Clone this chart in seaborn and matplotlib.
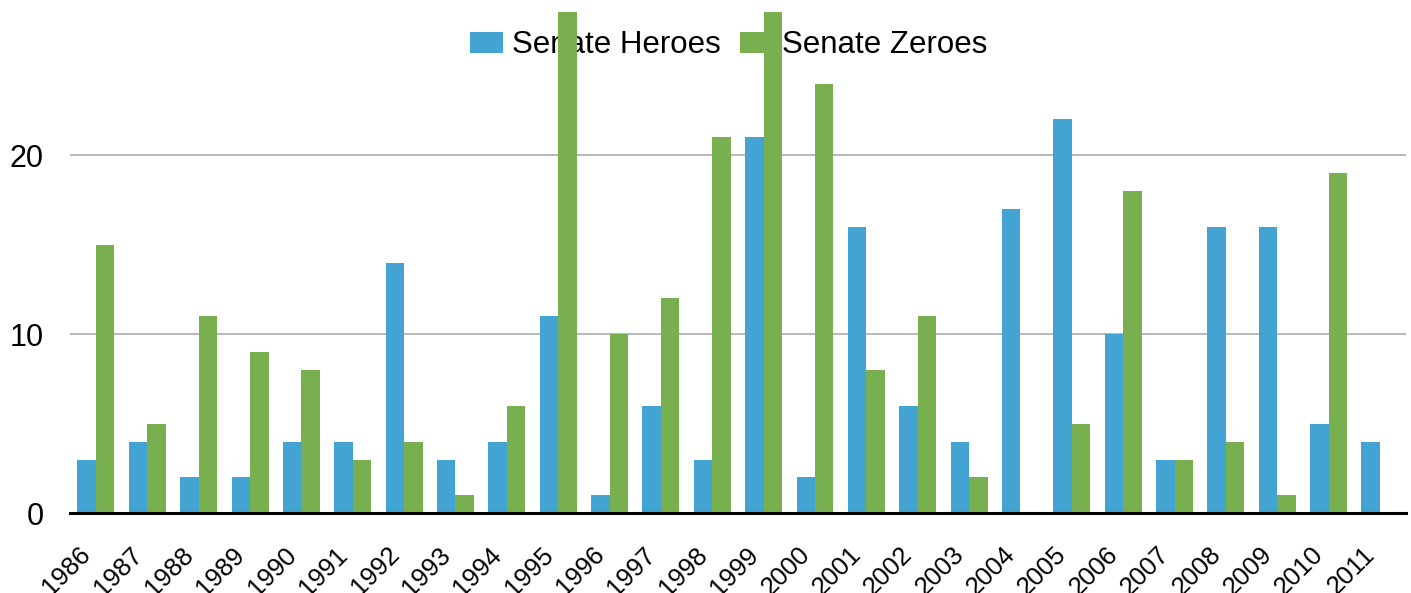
import matplotlib
matplotlib.use("Agg")
import matplotlib.pyplot as plt
import seaborn as sns
import pandas as pd
import numpy as np

years = [str(y) for y in range(1986, 2012)]
heroes = [3, 4, 2, 2, 4, 4, 14, 3, 4, 11, 1, 6, 3, 21, 2, 16, 6, 4, 17, 22, 10, 3, 16, 16, 5, 4]
zeroes = [15, 5, 11, 9, 8, 3, 4, 1, 6, 30, 10, 12, 21, 30, 24, 8, 11, 2, 0, 5, 18, 3, 4, 1, 19, 0]
series_names = ["Senate Heroes", "Senate Zeroes"]
colors = {"Senate Heroes": "#43A3D2", "Senate Zeroes": "#79B04F"}
yticks = [0, 10, 20]

df = pd.DataFrame({
    "Year": years * 2,
    "Value": heroes + zeroes,
    "Series": [series_names[0]] * len(years) + [series_names[1]] * len(years),
})

sns.set_style("white")
plt.rcParams["font.family"] = ["Liberation Sans", "DejaVu Sans"]
plt.rcParams["text.color"] = "black"

fig = plt.figure(figsize=(14.11, 5.93), dpi=100)
ax = fig.add_axes([0.0498, 0.1344, 0.9464, 0.8453])

sns.barplot(data=df, x="Year", y="Value", hue="Series", order=years,
            hue_order=series_names, palette=colors, width=0.72, gap=0,
            saturation=1, errorbar=None, ax=ax, linewidth=0)

ax.set_ylim(0, 28)
ax.set_xlim(-0.5, len(years) - 0.5)
ax.set_yticks(yticks)
ax.set_yticklabels([str(t) for t in yticks])
# label anchors sit slightly left of the category centres, as in the source
label_shift = 0.34
ax.set_xticks(np.arange(len(years)) - label_shift)
ax.set_xticklabels(years, rotation=45, ha="right", va="top",
                   rotation_mode="anchor")
ax.set_xlabel("")
ax.set_ylabel("")
ax.set_axisbelow(True)
ax.yaxis.grid(True, color="#A6A6A6", linewidth=1.1)
ax.xaxis.grid(False)
for s in ["top", "right", "left"]:
    ax.spines[s].set_visible(False)
ax.spines["bottom"].set_color("black")
ax.spines["bottom"].set_linewidth(2.2)
ax.spines["bottom"].set_zorder(3)

ax.tick_params(axis="y", length=0, pad=19, labelsize=22, labelcolor="black")
ax.tick_params(axis="x", length=0, pad=21, labelsize=18.5, labelcolor="black")

handles, labels = ax.get_legend_handles_labels()
leg = ax.legend(handles, labels, loc="center", bbox_to_anchor=(0.493, 0.934),
                ncol=2, frameon=False, fontsize=22.5, handlelength=1.05,
                handleheight=0.65, handletextpad=0.3, columnspacing=0.6,
                borderpad=0, borderaxespad=0)
for t in leg.get_texts():
    t.set_color("black")
leg.set_zorder(0.8)

fig.savefig("out.png", dpi=100)
